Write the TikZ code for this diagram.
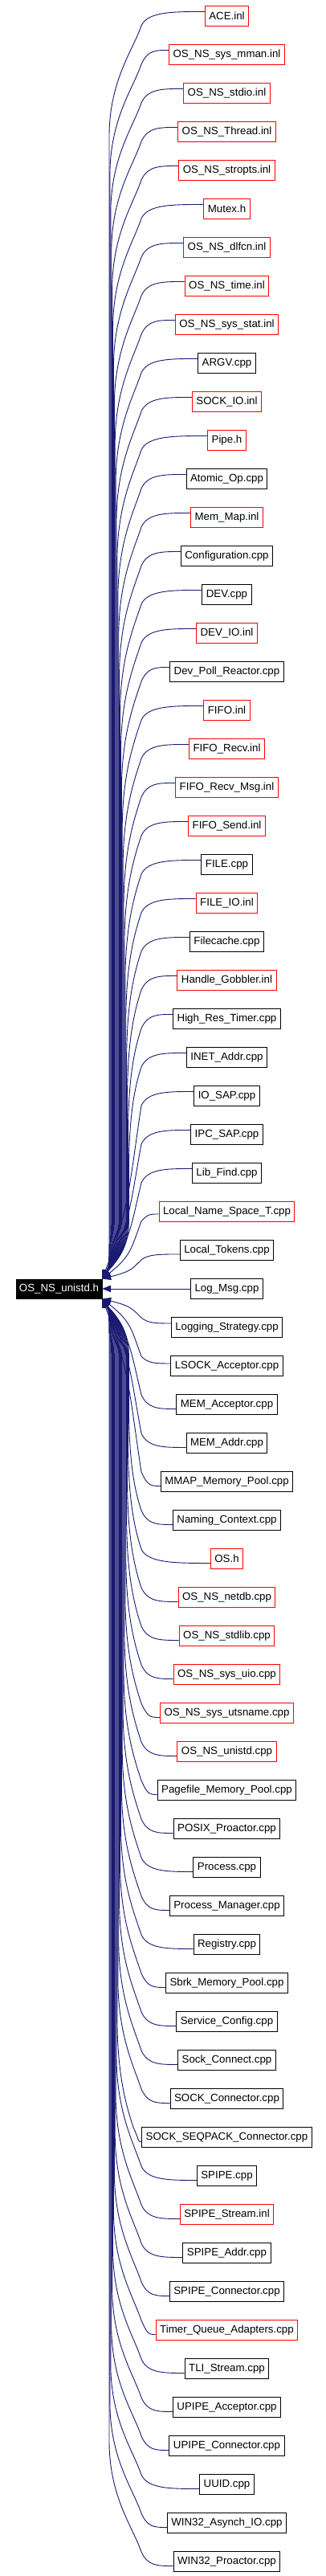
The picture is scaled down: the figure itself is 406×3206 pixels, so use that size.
\documentclass[tikz,border=0pt]{standalone}
\usepackage{fontspec}
\setmainfont{Liberation Sans}
\usetikzlibrary{arrows.meta}
\definecolor{edgeblue}{RGB}{25,25,112}
\begin{document}
\begin{tikzpicture}[x=1pt,y=1pt,
  fbox/.style={draw, line width=1pt, minimum height=25pt, inner xsep=5pt, inner ysep=0pt,
    font=\fontsize{13.3}{15}\selectfont, text=black},
  rootbox/.style={fill=black, draw=black, minimum width=107pt, minimum height=24.5pt,
    inner sep=0pt, text=white, font=\fontsize{13.3}{15}\selectfont},
  depline/.style={draw=edgeblue, line width=0.9pt, -{Triangle[length=11pt,width=8.5pt]}},
]
\useasboundingbox (0,0) rectangle (406,3206);
\node[rootbox] (root) at (73.5,1602) {OS\_NS\_unistd.h};
\foreach \lab/\col [count=\i] in {
ACE.inl/red, OS\_NS\_sys\_mman.inl/red, OS\_NS\_stdio.inl/red, OS\_NS\_Thread.inl/red,
OS\_NS\_stropts.inl/red, Mutex.h/red, OS\_NS\_dlfcn.inl/red, OS\_NS\_time.inl/red,
OS\_NS\_sys\_stat.inl/red, ARGV.cpp/black, SOCK\_IO.inl/red, Pipe.h/red,
Atomic\_Op.cpp/black, Mem\_Map.inl/red, Configuration.cpp/black, DEV.cpp/black,
DEV\_IO.inl/red, Dev\_Poll\_Reactor.cpp/black, FIFO.inl/red, FIFO\_Recv.inl/red,
FIFO\_Recv\_Msg.inl/red, FIFO\_Send.inl/red, FILE.cpp/black, FILE\_IO.inl/red,
Filecache.cpp/black, Handle\_Gobbler.inl/red, High\_Res\_Timer.cpp/black, INET\_Addr.cpp/black,
IO\_SAP.cpp/black, IPC\_SAP.cpp/black, Lib\_Find.cpp/black, Local\_Name\_Space\_T.cpp/red,
Local\_Tokens.cpp/black, Log\_Msg.cpp/black, Logging\_Strategy.cpp/black, LSOCK\_Acceptor.cpp/black,
MEM\_Acceptor.cpp/black, MEM\_Addr.cpp/black, MMAP\_Memory\_Pool.cpp/black, Naming\_Context.cpp/black,
OS.h/red, OS\_NS\_netdb.cpp/red, OS\_NS\_stdlib.cpp/red, OS\_NS\_sys\_uio.cpp/red,
OS\_NS\_sys\_utsname.cpp/red, OS\_NS\_unistd.cpp/red, Pagefile\_Memory\_Pool.cpp/black, POSIX\_Proactor.cpp/black,
Process.cpp/black, Process\_Manager.cpp/black, Registry.cpp/black, Sbrk\_Memory\_Pool.cpp/black,
Service\_Config.cpp/black, Sock\_Connect.cpp/black, SOCK\_Connector.cpp/black, SOCK\_SEQPACK\_Connector.cpp/black,
SPIPE.cpp/black, SPIPE\_Stream.inl/red, SPIPE\_Addr.cpp/black, SPIPE\_Connector.cpp/black,
Timer\_Queue\_Adapters.cpp/red, TLI\_Stream.cpp/black, UPIPE\_Acceptor.cpp/black, UPIPE\_Connector.cpp/black,
UUID.cpp/black, WIN32\_Asynch\_IO.cpp/black, WIN32\_Proactor.cpp/black}
{
  \node[fbox, draw=\col] (n\i) at (282.5,{3186-48*(\i-1)}) {\lab};
}
\foreach \i in {1,...,67}{
  \pgfmathtruncatemacro\k{34-\i}
  \ifnum\k=0
    \draw[depline] (n\i.west) -- (root.east);
  \else
    \ifnum\k>0 \def\D{1}\def\anc{north east}\else\def\D{-1}\def\anc{south east}\fi
    \pgfmathtruncatemacro\j{abs(\k)}
    \path (n\i.west); \pgfgetlastxy{\LX}{\LY}
    \pgfmathsetmacro\Lx{\LX}
    \pgfmathsetmacro\Ly{3186-48*(\i-1)}
    \pgfmathsetmacro\xb{136+(33-\j)*0.9}
    \pgfmathsetmacro\soff{(\j>2) ? 5.5 : ((\j==2) ? -3 : -5)}
    \pgfmathsetmacro\sy{\soff*(\D)}
    \pgfmathsetmacro\Sy{\Ly+\sy}
    \pgfmathsetmacro\Bx{min(176,\Lx-10)}
    \pgfmathsetmacro\By{\Ly-12*(\D)}
    \pgfmathsetmacro\Cx{(\Lx+\Bx)/2}
    \pgfmathsetmacro\Dx{\Bx+8}
    \ifnum\j>5
      \pgfmathsetmacro\Ex{\Bx-10}
      \pgfmathsetmacro\Ey{\By-30*(\D)}
      \pgfmathsetmacro\Fy{\Ly-80*(\D)}
      \pgfmathsetmacro\Gy{\Ly-150*(\D)}
      \pgfmathsetmacro\Hy{1602+80*(\D)}
      \pgfmathsetmacro\Iy{1602+45*(\D)}
      \pgfmathsetmacro\Jy{1602+25*(\D)}
      \draw[depline] ([yshift=\sy pt]n\i.west) .. controls (\Cx,\Sy) and (\Dx,\Sy) .. (\Bx,\By)
        .. controls (\Ex,\Ey) and (\xb,\Fy) .. (\xb,\Gy)
        -- (\xb,\Hy)
        .. controls (\xb,\Iy) and (136,\Jy) .. (root.\anc);
    \else
      \pgfmathsetmacro\h{48*\j-24.5}
      \pgfmathsetmacro\Ky{\By-0.45*\h*(\D)}
      \pgfmathsetmacro\My{1602+12.5*(\D)+0.4*\h*(\D)}
      \draw[depline] ([yshift=\sy pt]n\i.west) .. controls (\Cx,\Sy) and (\Dx,\Sy) .. (\Bx,\By)
        .. controls (\xb,\Ky) and (\xb,\My) .. (root.\anc);
    \fi
  \fi
}
\end{tikzpicture}
\end{document}
